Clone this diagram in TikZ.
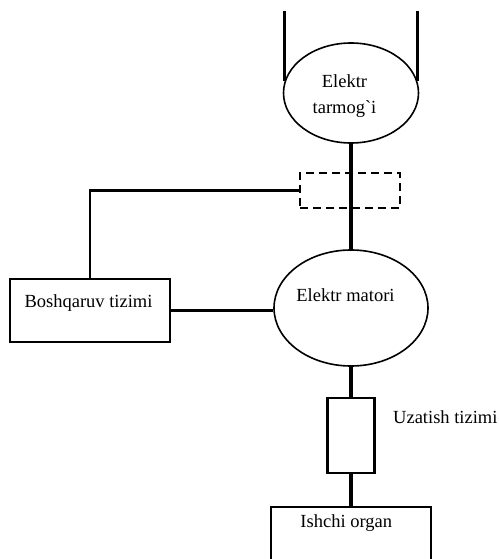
\documentclass[tikz,border=0pt]{standalone}
\usepackage{fontspec}
\setmainfont{Liberation Serif}
\usetikzlibrary{shapes.geometric, positioning, calc}
\tikzset{
  oval/.style={draw, ellipse, line width=1.6pt, inner sep=0pt},
  block/.style={draw, line width=2.6pt, inner sep=0pt},
  dashbox/.style={draw, line width=2pt, dash pattern=on 8pt off 5pt, inner sep=0pt},
  lbl/.style={inner sep=0pt, align=center, font=\fontsize{18.5}{26}\selectfont},
  shaft/.style={line width=4pt},
  wire/.style={line width=2.2pt},
}

\begin{document}
\begin{tikzpicture}[x=1pt, y=-1pt]
  \clip (0,0) rectangle (498,559);
  \fill[white] (0,0) rectangle (498,559);
  % supply network
  \node[oval, minimum width=135pt, minimum height=100pt] (tarmoq) at (351,93) {};
  \node[lbl] (tarmoqT) at (344.5,95.7) {Elektr\\tarmog\textasciigrave i};
  \draw[wire] (tarmoq.170) -- ++(0,-70);
  \draw[wire] (tarmoq.10) -- ++(0,-70);
  % motor
  \node[oval, minimum width=154pt, minimum height=116pt] (motor) at (351,308) {};
  \node[lbl] (motorT) at (345.5,295) {Elektr matori};
  \draw[shaft] (tarmoq.south) -- (motor.north);
  \node[dashbox, minimum width=100pt, minimum height=35pt] (sensor) at (350,190.5) {};
  % control
  \node[block, minimum width=160pt, minimum height=63pt] (bosh) at (90,310.5) {};
  \node[lbl] (boshT) at (88.5,303.5) {Boshqaruv tizimi};
  \draw[wire] (sensor.west) -| (bosh.north);
  \draw[wire] (bosh.east) -- (bosh.east -| motor.west);
  % transmission and working member
  \node[block, minimum width=47pt, minimum height=75pt] (uzatish) at (351,435.5) {};
  \node[lbl, anchor=west] (uzatishT) at (393,417) {Uzatish tizimi};
  \node[block, minimum width=160pt, minimum height=70pt] (ishchi) at (351,542) {};
  \node[lbl] (ishchiT) at (346.3,523.4) {Ishchi organ};
  \draw[shaft] (motor.south) -- (uzatish.north);
  \draw[shaft] (uzatish.south) -- (ishchi.north);
\end{tikzpicture}
\end{document}
